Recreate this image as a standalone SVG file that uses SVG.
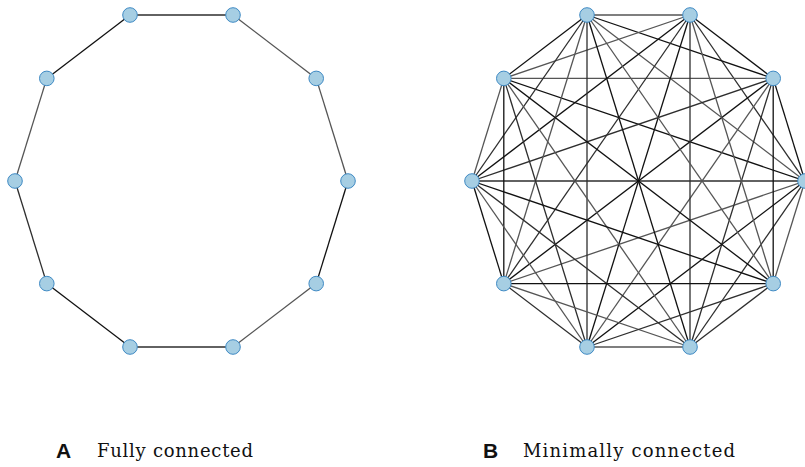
<svg xmlns="http://www.w3.org/2000/svg" width="805" height="467" viewBox="0 0 805 467">
<style>
line{stroke-width:1.3;fill:none}
.a{stroke:#111}
.b{stroke:#2e2e2e}
.c{stroke:#555}
circle{fill:#a6cee3;stroke:#3f8ac4;stroke-width:1}
.lab{font-family:"Liberation Sans",Arial,sans-serif;font-weight:bold;font-size:21px;fill:#111}
.cap{font-family:"DejaVu Serif","Liberation Serif",serif;font-size:18px;fill:#111}
</style>
<rect width="805" height="467" fill="#fff"/>
<g id="edgesA">
<line class="c" x1="348" y1="181" x2="316.2" y2="78.4"/>
<line class="c" x1="316.2" y1="78.4" x2="233" y2="15"/>
<line class="b" x1="233" y1="15" x2="130" y2="15"/>
<line class="a" x1="130" y1="15" x2="46.8" y2="78.4"/>
<line class="c" x1="46.8" y1="78.4" x2="15" y2="181"/>
<line class="b" x1="15" y1="181" x2="46.8" y2="283.6"/>
<line class="a" x1="46.8" y1="283.6" x2="130" y2="347"/>
<line class="b" x1="130" y1="347" x2="233" y2="347"/>
<line class="c" x1="233" y1="347" x2="316.2" y2="283.6"/>
<line class="a" x1="316.2" y1="283.6" x2="348" y2="181"/>
</g>
<g id="edgesB">
<line class="a" x1="805" y1="181" x2="773.2" y2="78.4"/>
<line class="b" x1="805" y1="181" x2="690" y2="15"/>
<line class="c" x1="805" y1="181" x2="587" y2="15"/>
<line class="a" x1="805" y1="181" x2="503.8" y2="78.4"/>
<line class="b" x1="805" y1="181" x2="472" y2="181"/>
<line class="c" x1="805" y1="181" x2="503.8" y2="283.6"/>
<line class="a" x1="805" y1="181" x2="587" y2="347"/>
<line class="b" x1="805" y1="181" x2="690" y2="347"/>
<line class="c" x1="805" y1="181" x2="773.2" y2="283.6"/>
<line class="a" x1="773.2" y1="78.4" x2="690" y2="15"/>
<line class="a" x1="773.2" y1="78.4" x2="587" y2="15"/>
<line class="c" x1="773.2" y1="78.4" x2="503.8" y2="78.4"/>
<line class="b" x1="773.2" y1="78.4" x2="472" y2="181"/>
<line class="a" x1="773.2" y1="78.4" x2="503.8" y2="283.6"/>
<line class="c" x1="773.2" y1="78.4" x2="587" y2="347"/>
<line class="b" x1="773.2" y1="78.4" x2="690" y2="347"/>
<line class="a" x1="773.2" y1="78.4" x2="773.2" y2="283.6"/>
<line class="c" x1="690" y1="15" x2="587" y2="15"/>
<line class="c" x1="690" y1="15" x2="503.8" y2="78.4"/>
<line class="a" x1="690" y1="15" x2="472" y2="181"/>
<line class="b" x1="690" y1="15" x2="503.8" y2="283.6"/>
<line class="a" x1="690" y1="15" x2="587" y2="347"/>
<line class="b" x1="690" y1="15" x2="690" y2="347"/>
<line class="c" x1="690" y1="15" x2="773.2" y2="283.6"/>
<line class="a" x1="587" y1="15" x2="503.8" y2="78.4"/>
<line class="b" x1="587" y1="15" x2="472" y2="181"/>
<line class="c" x1="587" y1="15" x2="503.8" y2="283.6"/>
<line class="b" x1="587" y1="15" x2="587" y2="347"/>
<line class="a" x1="587" y1="15" x2="690" y2="347"/>
<line class="c" x1="587" y1="15" x2="773.2" y2="283.6"/>
<line class="c" x1="503.8" y1="78.4" x2="472" y2="181"/>
<line class="a" x1="503.8" y1="78.4" x2="503.8" y2="283.6"/>
<line class="b" x1="503.8" y1="78.4" x2="587" y2="347"/>
<line class="c" x1="503.8" y1="78.4" x2="690" y2="347"/>
<line class="a" x1="503.8" y1="78.4" x2="773.2" y2="283.6"/>
<line class="a" x1="472" y1="181" x2="503.8" y2="283.6"/>
<line class="c" x1="472" y1="181" x2="587" y2="347"/>
<line class="b" x1="472" y1="181" x2="690" y2="347"/>
<line class="a" x1="472" y1="181" x2="773.2" y2="283.6"/>
<line class="b" x1="503.8" y1="283.6" x2="587" y2="347"/>
<line class="c" x1="503.8" y1="283.6" x2="690" y2="347"/>
<line class="a" x1="503.8" y1="283.6" x2="773.2" y2="283.6"/>
<line class="c" x1="587" y1="347" x2="690" y2="347"/>
<line class="b" x1="587" y1="347" x2="773.2" y2="283.6"/>
<line class="b" x1="690" y1="347" x2="773.2" y2="283.6"/>
</g>
<g id="nodesA">
<g id="a0"><circle cx="348" cy="181" r="7.3"/></g>
<g id="a1"><circle cx="316.2" cy="78.4" r="7.3"/></g>
<g id="a2"><circle cx="233" cy="15" r="7.3"/></g>
<g id="a3"><circle cx="130" cy="15" r="7.3"/></g>
<g id="a4"><circle cx="46.8" cy="78.4" r="7.3"/></g>
<g id="a5"><circle cx="15" cy="181" r="7.3"/></g>
<g id="a6"><circle cx="46.8" cy="283.6" r="7.3"/></g>
<g id="a7"><circle cx="130" cy="347" r="7.3"/></g>
<g id="a8"><circle cx="233" cy="347" r="7.3"/></g>
<g id="a9"><circle cx="316.2" cy="283.6" r="7.3"/></g>
</g>
<g id="nodesB">
<g id="b0"><circle cx="805" cy="181" r="7.3"/></g>
<g id="b1"><circle cx="773.2" cy="78.4" r="7.3"/></g>
<g id="b2"><circle cx="690" cy="15" r="7.3"/></g>
<g id="b3"><circle cx="587" cy="15" r="7.3"/></g>
<g id="b4"><circle cx="503.8" cy="78.4" r="7.3"/></g>
<g id="b5"><circle cx="472" cy="181" r="7.3"/></g>
<g id="b6"><circle cx="503.8" cy="283.6" r="7.3"/></g>
<g id="b7"><circle cx="587" cy="347" r="7.3"/></g>
<g id="b8"><circle cx="690" cy="347" r="7.3"/></g>
<g id="b9"><circle cx="773.2" cy="283.6" r="7.3"/></g>
</g>
<g id="labels">
<text class="lab" x="56" y="458">A</text>
<text class="cap" x="97" y="457" textLength="156">Fully connected</text>
<text class="lab" x="483" y="458">B</text>
<text class="cap" x="523" y="457" textLength="212">Minimally connected</text>
</g>
</svg>
